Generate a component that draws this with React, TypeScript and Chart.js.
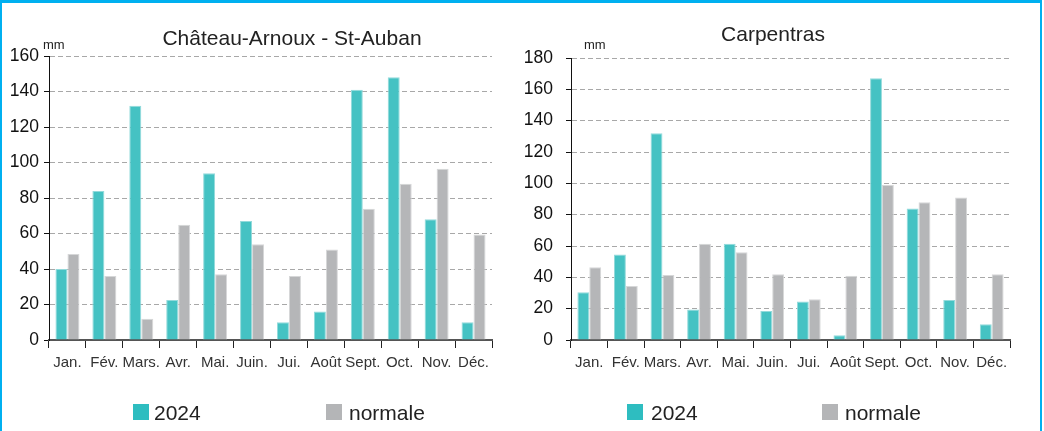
import React, { useEffect, useRef } from "react";
import { Chart, registerables } from "chart.js";

Chart.register(...registerables);

// ---------- DATA ----------
const months = ["Jan.", "Fév.", "Mars.", "Avr.", "Mai.", "Juin.", "Jui.", "Août", "Sept.", "Oct.", "Nov.", "Déc."];
const seriesLabels = ["2024", "normale"];
const unitLabel = "mm";

const chateauTitle = "Château-Arnoux - St-Auban";
const chateau2024 = [40, 84, 132, 22.5, 94, 67, 10, 16, 141, 148, 68, 10];
const chateauNormale = [48.5, 36, 12, 65, 37, 54, 36, 51, 74, 88, 96.5, 59.5];
const chateauMax = 160;

const carpTitle = "Carpentras";
const carp2024 = [30.5, 54.5, 132, 19.5, 61.5, 18.5, 24.5, 3, 167, 84, 25.5, 10];
const carpNormale = [46.5, 34.5, 41.5, 61.5, 56, 42, 26, 41, 99, 88, 91, 42];
const carpMax = 180;

const tickStep = 20;

// ---------- STYLE ----------
const TEAL = "#45C2C3";
const TEAL_EDGE = "#93DADB";
const TEAL_LEGEND = "#2EBDC0";
const GRAY = "#B5B6B8";
const GRAY_EDGE = "#D6D7D8";
const GRAY_LEGEND = "#B4B5B7";
const SANS = "'Liberation Sans', Arial, sans-serif";
const H = 431;
const XH = 30;

type Spec = {
  left: number;
  width: number;
  area: { left: number; top: number; right: number; bottom: number };
  yLabelGap: number;
  titleX: number;
  titleY: number;
  unitX: number;
  unitY: number;
  legendBoxX: number[];
  legendTextX: number[];
  legendY: number;
};

const decorPlugin = {
  id: "decor",
  afterDraw(chart: any, _args: any, opts: any) {
    const ctx = chart.ctx as CanvasRenderingContext2D;
    ctx.save();
    ctx.fillStyle = "#222";
    ctx.font = `21px ${SANS}`;
    ctx.textAlign = "center";
    ctx.textBaseline = "alphabetic";
    ctx.fillText(opts.title, opts.titleX, opts.titleY);

    ctx.font = `13px ${SANS}`;
    ctx.textAlign = "left";
    ctx.fillText(opts.unit, opts.unitX, opts.unitY);

    chart.data.datasets.forEach((ds: any, i: number) => {
      ctx.fillStyle = opts.legendColors[i];
      ctx.fillRect(opts.legendBoxX[i], opts.legendY - 8, 16, 16);
      ctx.fillStyle = "#222";
      ctx.font = `21px ${SANS}`;
      ctx.textAlign = "left";
      ctx.textBaseline = "alphabetic";
      ctx.fillText(ds.label, opts.legendTextX[i], opts.legendY + 8);
    });
    ctx.restore();
  },
};

function Panel(props: { title: string; d1: number[]; d2: number[]; max: number; spec: Spec }) {
  const ref = useRef<HTMLCanvasElement | null>(null);
  const { title, d1, d2, max, spec } = props;

  useEffect(() => {
    if (!ref.current) return;
    const s = spec;
    const chart = new Chart(ref.current, {
      type: "bar",
      data: {
        labels: months,
        datasets: [
          { label: seriesLabels[0], data: d1, backgroundColor: TEAL, borderColor: TEAL_EDGE, borderWidth: 1 },
          { label: seriesLabels[1], data: d2, backgroundColor: GRAY, borderColor: GRAY_EDGE, borderWidth: 1 },
        ],
      },
      options: {
        responsive: false,
        animation: false,
        devicePixelRatio: 1,
        layout: {
          padding: {
            left: 0,
            top: s.area.top,
            right: s.width - s.area.right,
            bottom: H - s.area.bottom - XH,
          },
        },
        datasets: { bar: { categoryPercentage: 0.65, barPercentage: 1 } },
        plugins: {
          legend: { display: false },
          tooltip: { enabled: false },
          title: { display: false },
          decor: {
            title,
            titleX: s.titleX,
            titleY: s.titleY,
            unit: unitLabel,
            unitX: s.unitX,
            unitY: s.unitY,
            legendBoxX: s.legendBoxX,
            legendTextX: s.legendTextX,
            legendY: s.legendY,
            legendColors: [TEAL_LEGEND, GRAY_LEGEND],
          },
        } as any,
        scales: {
          x: {
            grid: {
              offset: true,
              drawOnChartArea: false,
              drawTicks: true,
              tickLength: 8,
              tickColor: "#222",
              tickWidth: 1,
            },
            border: { display: true, color: "#555", width: 2 },
            ticks: {
              font: { family: SANS, size: 15 },
              color: "#333",
              padding: 6,
              maxRotation: 0,
              minRotation: 0,
              autoSkip: false,
            },
            afterFit: (sc: any) => {
              sc.height = XH;
            },
          },
          y: {
            min: 0,
            max,
            ticks: {
              stepSize: tickStep,
              font: { family: SANS, size: 17.5 },
              color: "#111",
              padding: s.yLabelGap - 5,
            },
            grid: {
              color: (c: any) => (c.tick && c.tick.value === 0 ? "rgba(0,0,0,0)" : "#a8a8a8"),
              tickColor: "#111",
              tickLength: 5,
              lineWidth: 1,
              tickBorderDash: [],
            },
            border: { display: true, color: "#111", width: 1, dash: [5, 3] },
            afterFit: (sc: any) => {
              sc.width = s.area.left;
            },
          },
        } as any,
      },
      plugins: [decorPlugin as any],
    });
    return () => chart.destroy();
  }, [title, d1, d2, max, spec]);

  return (
    <canvas
      ref={ref}
      width={spec.width}
      height={H}
      style={{ position: "absolute", left: spec.left, top: 0, width: spec.width, height: H, display: "block" }}
    />
  );
}

const leftSpec: Spec = {
  left: 0,
  width: 520,
  area: { left: 49, top: 56, right: 492, bottom: 340 },
  yLabelGap: 10,
  titleX: 292,
  titleY: 45,
  unitX: 43,
  unitY: 49,
  legendBoxX: [133, 326],
  legendTextX: [154, 349],
  legendY: 412,
};

const rightSpec: Spec = {
  left: 520,
  width: 524,
  area: { left: 51, top: 58, right: 490, bottom: 340 },
  yLabelGap: 18,
  titleX: 773 - 520,
  titleY: 41,
  unitX: 584 - 520,
  unitY: 49,
  legendBoxX: [627 - 520, 822 - 520],
  legendTextX: [651 - 520, 845 - 520],
  legendY: 412,
};

export default function App() {
  useEffect(() => {
    document.body.style.margin = "0";
  }, []);
  const blue = "#00B0F0";
  return (
    <div style={{ position: "relative", width: 1044, height: H, background: "#fff", overflow: "hidden" }}>
      <Panel title={chateauTitle} d1={chateau2024} d2={chateauNormale} max={chateauMax} spec={leftSpec} />
      <Panel title={carpTitle} d1={carp2024} d2={carpNormale} max={carpMax} spec={rightSpec} />
      <div style={{ position: "absolute", left: 0, top: 0, width: 1042, height: 3, background: blue }} />
      <div style={{ position: "absolute", left: 0, top: 0, width: 2, height: H, background: blue }} />
      <div style={{ position: "absolute", left: 1040, top: 0, width: 2, height: H, background: blue }} />
    </div>
  );
}
